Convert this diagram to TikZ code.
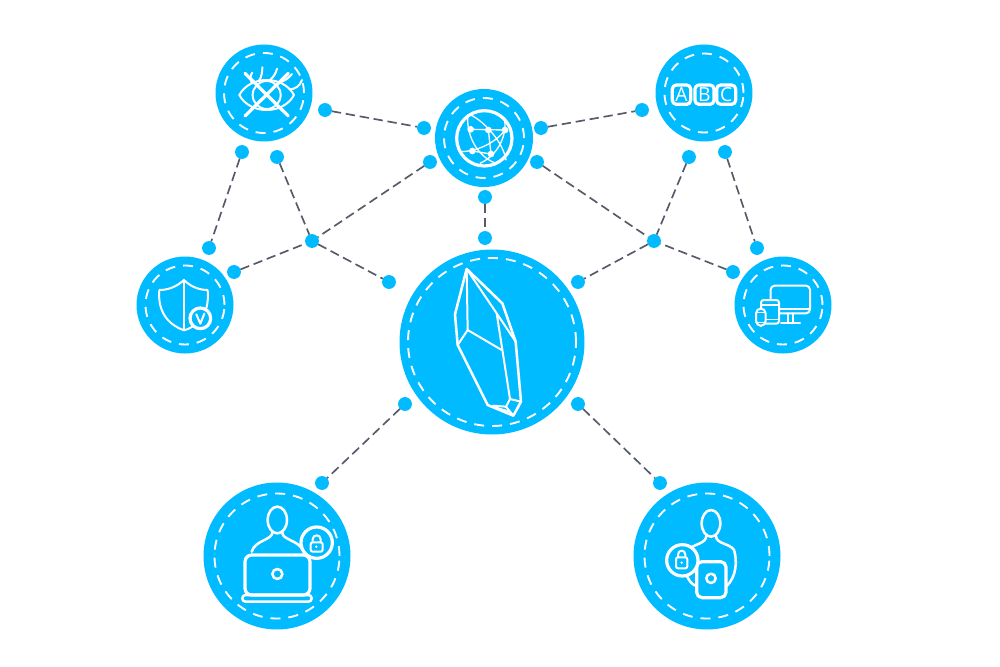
\documentclass[tikz,border=0pt]{standalone}
\usepackage{fontspec}
\setmainfont{Open Sans}
\definecolor{hubblue}{HTML}{00BBFF}
\definecolor{linkgrey}{HTML}{555B68}
\tikzset{
  hubdisc/.style={circle,fill=hubblue,draw=none,inner sep=0pt,outer sep=0pt,minimum size=#1*1.5pt},
  ringline/.style={circle,draw=white,line width=1.4pt,dash pattern=on 7.5pt off 6pt,inner sep=0pt,minimum size=#1*1.5pt},
  linkdot/.style={circle,fill=hubblue,draw=none,inner sep=0pt,outer sep=0pt,minimum size=10.4pt},
  linkline/.style={draw=linkgrey,line width=1.25pt,dash pattern=on 7pt off 3.6pt},
  ico/.style={draw=white,line width=1.5pt,line join=round,line cap=round},
  icothick/.style={draw=white,line width=2.4pt,line join=round,line cap=round},
  icomid/.style={draw=white,line width=1.9pt,line join=round,line cap=round},
  icothin/.style={draw=white,line width=1pt,line join=round,line cap=round},
  knot/.style={fill=white,draw=none},
  zoomed/.style={shift={(#1)},x=.25pt,y=-.25pt},
  abcletter/.style={text=white,font=\fontsize{14.5pt}{15pt}\selectfont,inner sep=0pt}
}
\begin{document}
\begin{tikzpicture}[x=.75pt,y=-.75pt]
\useasboundingbox (0,0) rectangle (1000,667);
\fill[white] (0,0) rectangle (1000,667);

% hubs
\node[hubdisc=48.5] (eye) at (264,93) {};
\node[hubdisc=49] (globe) at (484,138) {};
\node[hubdisc=48.5] (abc) at (704,93) {};
\node[hubdisc=48.5] (shield) at (185,305) {};
\node[hubdisc=48.5] (devices) at (783,305) {};
\node[hubdisc=92.5] (core) at (492,342) {};
\node[hubdisc=73.5] (laptop) at (277,556) {};
\node[hubdisc=73.5] (tablet) at (707,556) {};
\node[ringline=40] (eyering) at (eye) {};
\node[ringline=40] (globering) at (globe) {};
\node[ringline=39.5] (abcring) at (abc) {};
\node[ringline=39.5] (shieldring) at (shield) {};
\node[ringline=39.5] (devicesring) at (devices) {};
\node[ringline=84] (corering) at (core) {};
\node[ringline=62.5] (laptopring) at (laptop) {};
\node[ringline=62.5] (tabletring) at (tablet) {};

% dots
\foreach \n/\x/\y in {a/325/110,b/424/128,c/541/128,d/642/110,e/242/152,f/277/157,g/689/157,h/725/152,
  i/430/162,j/537/162,k/485/197,l/485/238,m/312/241,n/654/241,o/209/248,p/757/248,
  q/234/272,r/733/272,s/389/282,t/578/282,u/405/404,v/578/404,w/322/483,z/660/483}
  \node[linkdot] (\n) at (\x,\y) {};

% connectors
\foreach \s/\e in {a/b,c/d,e/o,h/p,f/m,g/n,i/m,j/n,k/l,q/m,r/n,m/s,n/t,u/w,v/z}
  \draw[linkline] (\s) -- (\e);

% eye icon
\begin{scope}[zoomed={200,30}]
  \draw[ico] (118,195) .. controls (150,135) and (250,135) .. (282,195) .. controls (250,255) and (150,255) .. (118,195) -- cycle;
  \draw[ico] (200,195) circle (42);
  \draw[icothick] (135,130) -- (265,258) (265,130) -- (135,258);
  \draw[ico] (155,158) .. controls (150,145) and (150,138) .. (157,128);
  \draw[ico] (178,150) .. controls (185,140) and (187,125) .. (187,112);
  \draw[ico] (212,148) .. controls (222,140) and (228,128) .. (231,116);
  \draw[ico] (245,155) .. controls (258,150) and (268,142) .. (276,132);
  \draw[ico] (268,178) .. controls (285,178) and (300,168) .. (306,150);
\end{scope}

% globe icon
\begin{scope}[zoomed={425,80}]
  \draw[icothick] (178,175) circle (83);
  \coordinate (g1) at (137,148);
  \coordinate (g2) at (190,150);
  \coordinate (g3) at (240,150);
  \coordinate (g4) at (142,213);
  \coordinate (g5) at (198,222);
  \draw[icothin] (g1) -- (g3) (g4) -- (g5) (g2) -- (g5);
  \draw[icothin] (128,108) .. controls (125,160) and (150,225) .. (212,250);
  \draw[icothin] (138,105) .. controls (185,130) and (235,190) .. (243,240);
  \draw[icothin] (238,113) .. controls (248,165) and (220,225) .. (165,250);
  \draw[icothin] (105,215) .. controls (160,215) and (215,185) .. (240,150);
  \foreach \g in {g1,g2,g3,g4,g5} \fill[knot] (\g) circle (10);
\end{scope}

% ABC icon
\begin{scope}[zoomed={645,35}]
  \draw[icothick,rounded corners=3pt] (82,150) rectangle (137,208);
  \draw[icothick,rounded corners=3pt] (150,150) rectangle (207,208);
  \draw[icothick,rounded corners=3pt] (215,150) rectangle (272,208);
  \node[abcletter] (lettera) at (109.5,179) {A};
  \node[abcletter] (letterb) at (178.5,179) {B};
  \node[abcletter] (letterc) at (243.5,179) {C};
\end{scope}

% shield icon
\begin{scope}[zoomed={125,245}]
  \draw[ico] (177,105) .. controls (155,125) and (130,135) .. (103,135) .. controls (98,190) and (120,235) .. (177,256) .. controls (190,252) and (198,248) .. (205,243);
  \draw[ico] (177,105) .. controls (197,125) and (222,135) .. (248,135) .. controls (250,155) and (248,175) .. (244,190);
  \draw[ico] (177,105) -- (177,255);
  \draw[icothick,fill=hubblue] (226,220) circle (31);
  \draw[ico] (214,208) -- (226,236) -- (238,206);
\end{scope}

% devices icon
\begin{scope}[zoomed={725,245}]
  \draw[ico,rounded corners=3pt] (137,205) -- (137,122) -- (255,122) -- (255,205) -- cycle;
  \draw[icothin] (137,192) -- (255,192);
  \draw[ico] (190,205) -- (190,230) (205,205) -- (205,230) (168,233) -- (225,233);
  \draw[ico,fill=hubblue,rounded corners=2pt] (108,165) rectangle (162,236);
  \draw[icothin] (108,180) -- (162,180) (108,224) -- (162,224);
  \draw[ico,fill=hubblue,rounded corners=4pt] (93,190) rectangle (122,243);
  \draw[icothin] (93,203) -- (122,203) (93,232) -- (122,232);
\end{scope}

% crystal icon
\begin{scope}[zoomed={395,245}]
  \draw[icomid] (215,72) -- (180,208) -- (188,300) -- (278,480) -- (355,512) -- (378,470) -- (362,290) -- (322,175) -- cycle;
  \draw[ico] (215,72) -- (218,255) -- (188,300) (218,255) -- (320,315);
  \draw[ico] (215,72) -- (305,205) -- (345,462) -- (333,485) -- (355,512) (345,462) -- (378,470) (305,205) -- (362,290);
  \draw[ico] (333,485) -- (295,482) (300,488) -- (345,500);
\end{scope}

% laptop person icon
\begin{scope}[zoomed={200,480}]
  \draw[icomid] (232,120) ellipse (29 and 40);
  \draw[icomid] (217,157) .. controls (218,180) and (165,180) .. (155,215);
  \draw[icomid] (247,157) .. controls (246,180) and (295,180) .. (310,212);
  \draw[icothick,rounded corners=5pt] (135,225) -- (330,225) -- (330,345) -- (135,345) -- cycle;
  \draw[icomid,rounded corners=2.4pt] (127,345) rectangle (335,365);
  \draw[icomid] (232,282) circle (15);
  \draw[icothick,fill=hubblue] (350,188) circle (47);
  \draw[ico,rounded corners=1.5pt] (332,187) rectangle (368,215);
  \draw[ico] (338,187) -- (338,178) .. controls (338,162) and (362,162) .. (362,178) -- (362,187);
  \fill[knot] (349,200) circle (4);
\end{scope}

% tablet person icon
\begin{scope}[zoomed={630,480}]
  \draw[icomid] (243,130) ellipse (28 and 40);
  \draw[icomid] (229,168) .. controls (228,190) and (195,192) .. (180,205);
  \draw[icomid] (258,168) .. controls (258,192) and (300,190) .. (312,210) .. controls (322,240) and (320,290) .. (290,318);
  \draw[icomid] (172,290) .. controls (178,305) and (188,315) .. (200,318);
  \draw[icothick,rounded corners=4pt] (200,245) rectangle (288,353);
  \draw[icomid] (243,295) circle (14);
  \draw[icothick,fill=hubblue] (157,241) circle (47);
  \draw[ico,rounded corners=1.5pt] (138,232) rectangle (172,265);
  \draw[ico] (144,232) -- (144,224) .. controls (144,208) and (166,208) .. (166,224) -- (166,232);
  \fill[knot] (155,248) circle (4);
\end{scope}
\end{tikzpicture}
\end{document}
